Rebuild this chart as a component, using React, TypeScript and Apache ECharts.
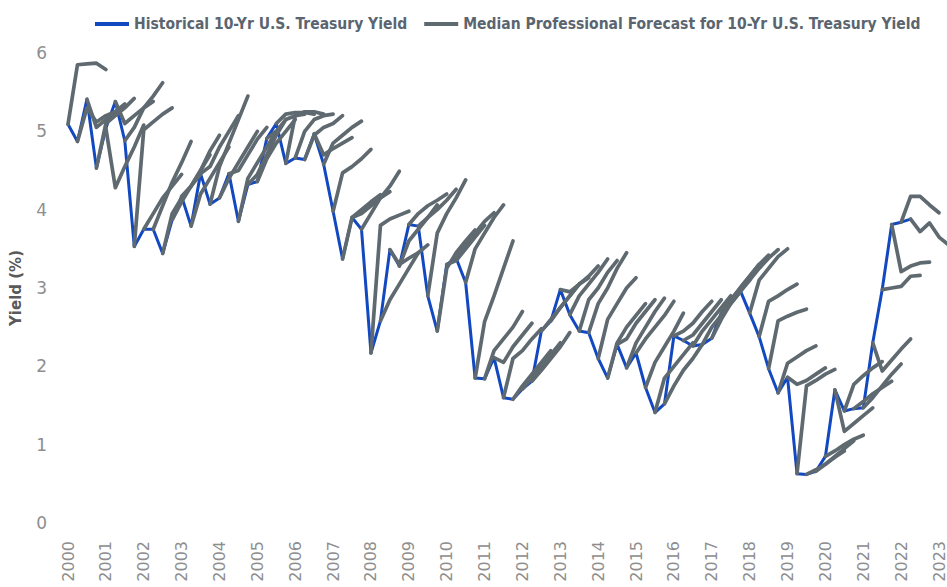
import React, { useEffect, useRef } from "react";
import * as echarts from "echarts";

const HIST_NAME = "Historical 10-Yr U.S. Treasury Yield";
const FORECAST_NAME = "Median Professional Forecast for 10-Yr U.S. Treasury Yield";

// Quarterly positions: index 0 = first quarter shown (at the "2000" tick), 4 quarters per year label
const FIRST_YEAR = 2000;
const YEAR_TICKS = [2000, 2001, 2002, 2003, 2004, 2005, 2006, 2007, 2008, 2009, 2010, 2011, 2012, 2013, 2014, 2015, 2016, 2017, 2018, 2019, 2020, 2021, 2022, 2023];

// Historical 10-yr yield (%), one value per quarter
const HIST = [
  5.09, 4.87, 5.41, 4.53, 5.04, 5.38, 4.88, 3.53, 3.75, 3.75,
  3.44, 3.87, 4.17, 3.79, 4.46, 4.07, 4.15, 4.46, 3.85, 4.32,
  4.36, 4.91, 5.1, 4.59, 4.66, 4.64, 4.97, 4.58, 3.98, 3.37,
  3.9, 3.75, 2.17, 2.58, 3.49, 3.28, 3.81, 3.79, 2.9, 2.45,
  3.3, 3.38, 3.07, 1.85, 1.84, 2.11, 1.6, 1.58, 1.71, 1.81,
  2.45, 2.58, 2.98, 2.66, 2.45, 2.43, 2.1, 1.85, 2.28, 1.98,
  2.17, 1.73, 1.41, 1.52, 2.39, 2.33, 2.26, 2.28, 2.36, 2.68,
  2.82, 2.97, 2.68, 2.38, 1.97, 1.66, 1.86, 0.63, 0.62, 0.66,
  0.85, 1.7, 1.43, 1.46, 1.47, 2.3, 2.98, 3.81, 3.84, 3.88,
];

// Forecast paths: FORECASTS[k] starts at quarter k and covers the next 4 quarters
const FORECASTS = [
  [5.09, 5.85, 5.86, 5.87, 5.79],
  [4.87, 5.3, 5.12, 5.2, 5.25],
  [5.41, 5.05, 5.15, 5.25, 5.35],
  [4.53, 5.1, 5.2, 5.3, 5.42],
  [5.04, 4.28, 4.55, 4.8, 5.08],
  [5.38, 5.1, 5.2, 5.3, 5.38],
  [4.88, 5.05, 5.3, 5.45, 5.62],
  [3.53, 5.02, 5.12, 5.22, 5.3],
  [3.75, 3.95, 4.15, 4.3, 4.45],
  [3.75, 4.05, 4.35, 4.6, 4.87],
  [3.44, 3.95, 4.15, 4.3, 4.45],
  [3.87, 4.1, 4.3, 4.5, 4.7],
  [4.17, 4.3, 4.5, 4.75, 4.95],
  [3.79, 4.2, 4.4, 4.6, 4.8],
  [4.46, 4.55, 4.8, 5.0, 5.2],
  [4.07, 4.55, 4.85, 5.15, 5.45],
  [4.15, 4.4, 4.6, 4.8, 5.0],
  [4.46, 4.5, 4.7, 4.9, 5.05],
  [3.85, 4.4, 4.6, 4.8, 5.0],
  [4.32, 4.45, 4.7, 4.95, 5.15],
  [4.36, 4.65, 4.85, 5.0, 5.15],
  [4.91, 5.0, 5.15, 5.2, 5.22],
  [5.1, 5.22, 5.24, 5.24, 5.22],
  [4.59, 5.2, 5.25, 5.25, 5.22],
  [4.66, 5.0, 5.15, 5.2, 5.22],
  [4.64, 4.95, 5.05, 5.1, 5.2],
  [4.97, 4.7, 4.78, 4.85, 4.92],
  [4.58, 4.85, 4.95, 5.05, 5.13],
  [3.98, 4.47, 4.55, 4.65, 4.77],
  [3.37, 3.9, 4.0, 4.1, 4.19],
  [3.9, 3.95, 4.05, 4.15, 4.23],
  [3.75, 3.95, 4.15, 4.3, 4.49],
  [2.17, 3.8, 3.88, 3.93, 3.98],
  [2.58, 2.85, 3.05, 3.25, 3.45],
  [3.49, 3.3, 3.38, 3.45, 3.55],
  [3.28, 3.6, 3.75, 3.9, 4.06],
  [3.81, 3.95, 4.05, 4.12, 4.2],
  [3.79, 3.9, 4.0, 4.12, 4.26],
  [2.9, 3.7, 3.95, 4.15, 4.38],
  [2.45, 3.25, 3.45, 3.6, 3.74],
  [3.3, 3.35, 3.5, 3.65, 3.8],
  [3.38, 3.55, 3.7, 3.85, 3.96],
  [3.07, 3.5, 3.7, 3.9, 4.06],
  [1.85, 2.57, 2.9, 3.25, 3.6],
  [1.84, 2.2, 2.35, 2.5, 2.7],
  [2.11, 2.05, 2.25, 2.4, 2.55],
  [1.6, 2.1, 2.2, 2.35, 2.48],
  [1.58, 1.75, 1.9, 2.05, 2.2],
  [1.71, 1.85, 2.0, 2.15, 2.3],
  [1.81, 1.95, 2.1, 2.25, 2.43],
  [2.45, 2.6, 2.75, 2.9, 3.05],
  [2.58, 2.75, 2.9, 3.05, 3.13],
  [2.98, 2.95, 3.05, 3.15, 3.28],
  [2.66, 2.9, 3.05, 3.2, 3.37],
  [2.45, 2.85, 3.0, 3.2, 3.35],
  [2.43, 2.8, 3.0, 3.25, 3.45],
  [2.1, 2.6, 2.8, 3.0, 3.13],
  [1.85, 2.3, 2.5, 2.65, 2.8],
  [2.28, 2.35, 2.55, 2.7, 2.85],
  [1.98, 2.3, 2.5, 2.7, 2.87],
  [2.17, 2.35, 2.5, 2.65, 2.83],
  [1.73, 2.05, 2.25, 2.45, 2.68],
  [1.41, 1.85, 2.0, 2.15, 2.3],
  [1.52, 1.75, 1.95, 2.1, 2.28],
  [2.39, 2.45, 2.55, 2.7, 2.83],
  [2.33, 2.4, 2.55, 2.7, 2.85],
  [2.26, 2.45, 2.6, 2.75, 2.9],
  [2.28, 2.5, 2.65, 2.8, 2.95],
  [2.36, 2.6, 2.8, 2.95, 3.1],
  [2.68, 2.85, 3.0, 3.15, 3.3],
  [2.82, 3.0, 3.15, 3.3, 3.42],
  [2.97, 3.1, 3.25, 3.38, 3.49],
  [2.68, 3.1, 3.25, 3.4, 3.5],
  [2.38, 2.83, 2.9, 2.98, 3.05],
  [1.97, 2.58, 2.64, 2.69, 2.73],
  [1.66, 2.04, 2.12, 2.2, 2.26],
  [1.86, 1.77, 1.82, 1.9, 1.98],
  [0.63, 1.75, 1.82, 1.9, 1.96],
  [0.62, 0.68, 0.75, 0.84, 0.92],
  [0.66, 0.75, 0.85, 0.95, 1.05],
  [0.85, 0.92, 1.0, 1.07, 1.12],
  [1.7, 1.17, 1.27, 1.37, 1.47],
  [1.43, 1.77, 1.88, 1.98, 2.06],
  [1.46, 1.55, 1.65, 1.73, 1.81],
  [1.47, 1.6, 1.75, 1.9, 2.03],
  [2.3, 1.94, 2.08, 2.22, 2.35],
  [2.98, 3.0, 3.02, 3.15, 3.16],
  [3.81, 3.21, 3.28, 3.32, 3.33],
  [3.84, 4.17, 4.17, 4.06, 3.96],
  [3.88, 3.72, 3.83, 3.65, 3.55],
];

const BLUE = "#1248c0";
const GRAY = "#5f6970";
const TEXT_FONT = "'Liberation Sans Narrow', 'DejaVu Sans Condensed', 'Roboto', sans-serif";

export default function App() {
  const ref = useRef<HTMLDivElement>(null);

  useEffect(() => {
    if (!ref.current) return;
    const chart = echarts.init(ref.current, undefined, { renderer: "svg" });

    const histSeries = {
      name: HIST_NAME,
      type: "line",
      data: HIST.map((v, i) => [i, v]),
      showSymbol: false,
      symbol: "none",
      lineStyle: { color: BLUE, width: 3, cap: "round", join: "round" },
      itemStyle: { color: BLUE },
      z: 2,
      silent: true,
    };

    const forecastSeries = FORECASTS.map((f, k) => ({
      name: FORECAST_NAME,
      type: "line",
      data: f.map((v, j) => [k + j, v]),
      showSymbol: false,
      symbol: "none",
      lineStyle: { color: GRAY, width: 3.7, cap: "round", join: "round" },
      itemStyle: { color: GRAY },
      z: 3,
      silent: true,
    }));

    chart.setOption({
      animation: false,
      backgroundColor: "#ffffff",
      legend: {
        data: [HIST_NAME, FORECAST_NAME],
        left: 90,
        top: 11,
        width: 852,
        icon: "rect",
        itemWidth: 34,
        itemHeight: 4,
        itemGap: 17,
        textStyle: { color: "#5a6570", fontSize: 15.5, fontWeight: "bold", fontFamily: TEXT_FONT },
      },
      grid: { left: 65, right: 0, top: 53, bottom: 64, containLabel: false },
      xAxis: {
        type: "value",
        min: 0,
        max: 92.6,
        interval: 4,
        axisLine: { show: false },
        axisTick: { show: false },
        splitLine: { show: false },
        axisLabel: {
          rotate: 90,
          margin: 18,
          color: "#8e8e8e",
          fontSize: 16,
          fontFamily: "'DejaVu Sans', sans-serif",
          showMaxLabel: false,
          formatter: (v: number) => {
            const y = FIRST_YEAR + Math.round(v / 4);
            return YEAR_TICKS.includes(y) ? String(y) : "";
          },
        },
      },
      yAxis: {
        type: "value",
        min: 0,
        max: 6,
        interval: 1,
        name: "Yield (%)",
        nameLocation: "middle",
        nameGap: 45,
        nameTextStyle: { color: "#595959", fontSize: 15, fontWeight: "bold", fontFamily: "'DejaVu Sans', sans-serif" },
        axisLine: { show: false },
        axisTick: { show: false },
        splitLine: { show: false },
        axisLabel: { margin: 21, color: "#8e8e8e", fontSize: 17, fontFamily: "'DejaVu Sans', sans-serif" },
      },
      series: [histSeries, ...forecastSeries],
    });

    return () => chart.dispose();
  }, []);

  return <div ref={ref} style={{ width: 947, height: 587, position: "absolute", left: 0, top: 0 }} />;
}
